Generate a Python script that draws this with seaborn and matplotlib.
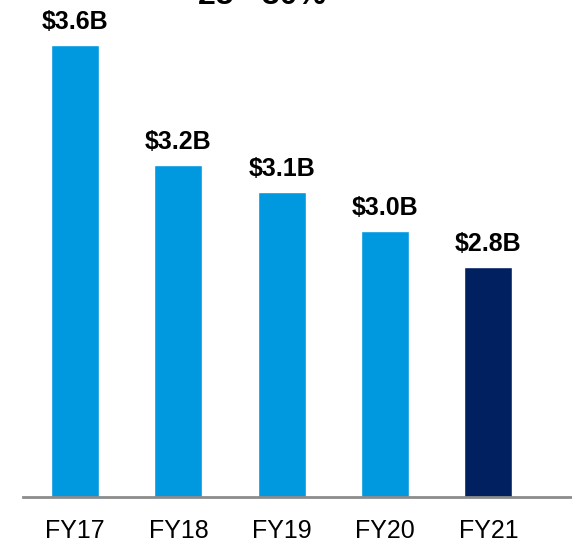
import matplotlib
matplotlib.use("Agg")
import matplotlib.pyplot as plt
import seaborn as sns
import pandas as pd

categories = ["FY17", "FY18", "FY19", "FY20", "FY21"]
values = [3.58, 3.18, 3.09, 2.96, 2.84]
labels = ["$3.6B", "$3.2B", "$3.1B", "$3.0B", "$2.8B"]
title_text = "25 - 30%"

colors = ["#0099e0", "#0099e0", "#0099e0", "#0099e0", "#002060"]

sns.set_theme(style="white")
plt.rcParams["font.family"] = ["Liberation Sans", "DejaVu Sans"]

df = pd.DataFrame({"year": categories, "value": values})

fig = plt.figure(figsize=(5.72, 5.39), dpi=100)
ax = fig.add_axes([23 / 572, 42 / 539, 1 - 23 / 572, 1 - 42 / 539])

sns.barplot(data=df, x="year", y="value", hue="year", palette=colors,
            width=0.465, legend=False, ax=ax, saturation=1)

ax.set_ylim(2.073, 2.073 + 497 / 300)
ax.set_xlim(-0.504, 4.81)

for p, lab in zip(ax.patches, labels):
    ax.annotate(lab, (p.get_x() + p.get_width() / 2, p.get_height()),
                xytext=(0, 7.5), textcoords="offset points",
                ha="center", va="bottom", fontsize=18, fontweight="bold",
                color="black")

for s in ["top", "right", "left"]:
    ax.spines[s].set_visible(False)
ax.spines["bottom"].set_color("#8c8c8c")
ax.spines["bottom"].set_linewidth(2)
ax.set_yticks([])
ax.set_xlabel("")
ax.set_ylabel("")
ax.tick_params(axis="x", length=0, pad=16, labelsize=18, labelcolor="black")

fig.text(261.5 / 572, 1 - 4 / 539, title_text, ha="center", va="baseline",
         fontsize=23, fontweight="bold", color="black")

fig.savefig("out.png", dpi=100)
